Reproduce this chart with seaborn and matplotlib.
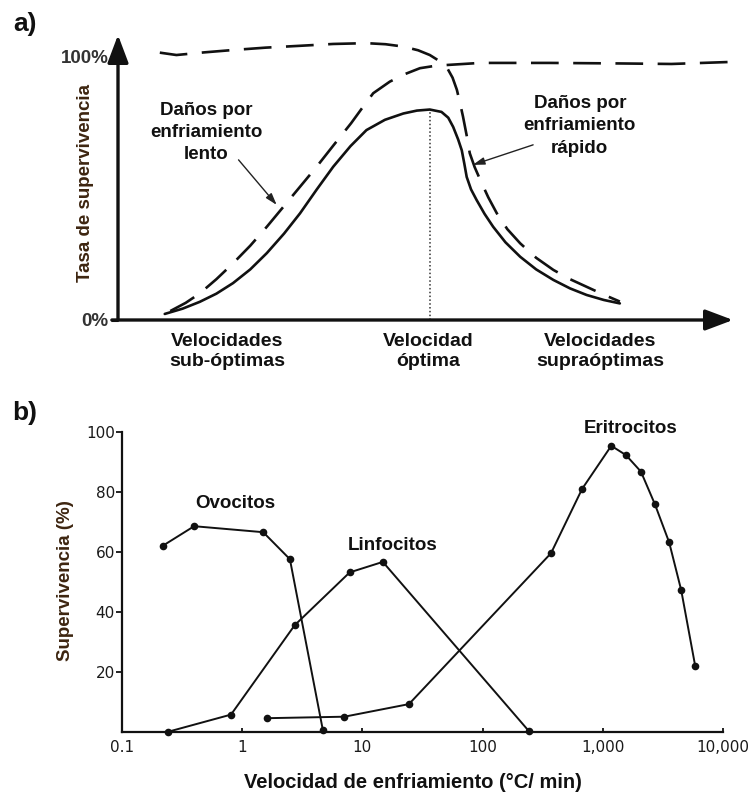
import pandas as pd
import matplotlib
matplotlib.use("Agg")
import matplotlib.pyplot as plt
import seaborn as sns

# ---------------- a) schematic: survival vs. cooling rate (rate in arbitrary units 0-100)
a_opt_x = [7.6, 10.5, 13.3, 16.0, 18.7, 21.5, 24.2, 27.0, 29.6, 32.3, 35.0, 37.8, 40.4,
           43.4, 46.4, 48.6, 50.7, 52.6, 53.7, 54.5, 55.3, 55.9, 56.3, 56.7, 57.4, 58.3,
           59.6, 61.0, 63.0, 65.4, 68.0, 70.8, 73.5, 76.2, 79.0, 81.6]
a_opt_y = [2.3, 4.3, 6.9, 10.0, 14.0, 19.2, 25.4, 32.8, 40.5, 49.5, 58.2, 66.0, 72.1,
           76.0, 78.4, 79.5, 79.9, 79.0, 76.8, 73.3, 68.6, 64.4, 59.5, 54.3, 49.6, 45.6,
           40.3, 35.4, 29.5, 24.0, 19.2, 15.2, 12.0, 9.5, 7.6, 6.3]

a_slow_x = [8.5, 11.0, 13.3, 16.0, 18.7, 21.5, 24.2, 26.9, 29.6, 32.3, 35.1, 37.9, 39.8,
            41.5, 44.2, 46.7, 49.1, 51.3, 53.4, 58.9, 70.2, 81.6, 90.0, 100.0]
a_slow_y = [3.4, 6.5, 10.1, 15.5, 21.5, 28.2, 35.4, 43.0, 50.6, 58.2, 66.5, 74.7, 80.8,
            86.1, 90.5, 93.4, 95.6, 96.4, 96.8, 97.6, 97.6, 97.4, 97.2, 98.0]

a_fast_x = [6.8, 9.5, 14.0, 18.7, 24.0, 29.6, 35.0, 40.4, 43.5, 46.4, 48.8, 50.7, 52.2,
            53.4, 54.4, 55.1, 55.6, 56.1, 56.7, 57.2, 58.0, 58.9, 60.2, 61.6, 63.3, 65.4,
            68.0, 70.8, 73.5, 76.2, 79.0, 81.6]
a_fast_y = [101.5, 100.6, 101.6, 102.5, 103.4, 104.1, 104.8, 105.1, 104.7, 103.8, 102.4,
            100.6, 98.4, 96.2, 92.0, 87.4, 82.5, 77.2, 70.0, 63.3, 58.0, 53.2, 46.6, 40.5,
            34.5, 29.1, 23.6, 19.0, 15.5, 12.6, 9.6, 7.0]

a_optimum_x = 50.7
a_peak_y = 79.9
a_rate_labels = ["Velocidades\nsub-óptimas", "Velocidad\nóptima", "Velocidades\nsupraóptimas"]
a_rate_label_x = [17.7, 50.5, 78.4]
a_surv_ticks = [0, 100]
a_surv_labels = ["0%", "100%"]

# ---------------- b) measured survival vs. cooling rate (°C/min)
ovo_x = [0.22, 0.40, 1.5, 2.5, 4.7]
ovo_y = [62.0, 68.5, 66.5, 57.5, 0.5]
lin_x = [0.244, 0.81, 2.74, 7.85, 14.8, 241]
lin_y = [0.0, 5.7, 35.5, 53.1, 56.6, 0.3]
eri_x = [1.6, 7.1, 24.4, 370, 670, 1172, 1552, 2067, 2702, 3550, 4467, 5835]
eri_y = [4.5, 5.0, 9.2, 59.5, 80.9, 95.3, 92.2, 86.7, 75.8, 63.1, 47.2, 22.0]
cell_names = ["Ovocitos", "Linfocitos", "Eritrocitos"]
b_xticks = [0.1, 1, 10, 100, 1000, 10000]
b_xticklabels = ["0.1", "1", "10", "100", "1,000", "10,000"]
b_yticks = [20, 40, 60, 80, 100]

W, H = 750, 795
sns.set_theme(style="white")
plt.rcParams["font.family"] = ["Liberation Sans", "DejaVu Sans"]

fig = plt.figure(figsize=(W / 100, H / 100), dpi=100)


def px_axes(left, top, right, bottom):
    return fig.add_axes([left / W, 1 - bottom / H, (right - left) / W, (bottom - top) / H])


def px_text(x, y, s, **kw):
    fig.text(x / W, 1 - y / H, s, **kw)


# ================= panel a =================
ax = px_axes(118, 35, 733, 320)
df_a = pd.concat([
    pd.DataFrame({"rate": a_opt_x, "surv": a_opt_y, "curve": "opt"}),
    pd.DataFrame({"rate": a_slow_x, "surv": a_slow_y, "curve": "slow"}),
    pd.DataFrame({"rate": a_fast_x, "surv": a_fast_y, "curve": "fast"}),
])
sns.lineplot(data=df_a, x="rate", y="surv", style="curve", color="#111111",
             dashes={"opt": "", "slow": (10.5, 5.5), "fast": (10.5, 5.5)},
             linewidth=1.9, sort=False, estimator=None, legend=False, ax=ax)
ax.plot([a_optimum_x, a_optimum_x], [0, a_peak_y], ls=(0, (1, 1.5)), lw=1.1, color="#333333")
ax.set_xlim(0, 100)
ax.set_ylim(0, 108.2)
for s in ax.spines.values():
    s.set_visible(False)
ax.set_xlabel("")
ax.set_ylabel("")
ax.set_yticks(a_surv_ticks)
ax.set_yticklabels(a_surv_labels, fontsize=13.5, fontweight="bold", color="#333333")
ax.tick_params(axis="y", length=5, width=2.2, color="#111111", pad=2, left=True)
ax.set_xticks(a_rate_label_x)
ax.set_xticklabels(a_rate_labels, fontsize=14, fontweight="bold", color="#111111",
                   linespacing=1.3)
ax.tick_params(axis="x", length=0, pad=9)

arrow_kw = dict(arrowstyle="-|>,head_length=0.85,head_width=0.32", lw=2.4,
                color="#111111", shrinkA=0, shrinkB=0, mutation_scale=20)
ax.annotate("", xy=(0, 1), xytext=(0, 0), xycoords="axes fraction",
            textcoords="axes fraction", arrowprops=arrow_kw, annotation_clip=False)
ax.annotate("", xy=(1, 0), xytext=(-0.01, 0), xycoords="axes fraction",
            textcoords="axes fraction", arrowprops=arrow_kw, annotation_clip=False)

thin = dict(arrowstyle="-|>,head_length=0.7,head_width=0.22", lw=1.0, color="#222222",
            shrinkA=0, shrinkB=0, mutation_scale=10)
ax.annotate("", xy=(25.8, 43.7), xytext=(19.6, 60.8), arrowprops=thin)
ax.annotate("", xy=(57.7, 58.9), xytext=(67.5, 66.5), arrowprops=thin)
ax.text(14.4, 71.2, "Daños por\nenfriamiento\nlento", ha="center", va="center",
        fontsize=13.5, fontweight="bold", color="#111111", linespacing=1.4)
ax.text(75.1, 73.7, "Daños por\nenfriamiento\nrápido", ha="center", va="center",
        fontsize=13.5, fontweight="bold", color="#111111", linespacing=1.4)

px_text(85, 183, "Tasa de supervivencia", rotation=90, ha="center", va="center",
        fontsize=13.5, fontweight="bold", color="#3d2510")
px_text(25, 24, "a)", ha="center", va="center", fontsize=19, fontweight="bold", color="#111111")

# ================= panel b =================
bx = px_axes(121.7, 431.7, 723.3, 731.7)
df_b = pd.concat([
    pd.DataFrame({"rate": ovo_x, "surv": ovo_y, "cell": cell_names[0]}),
    pd.DataFrame({"rate": lin_x, "surv": lin_y, "cell": cell_names[1]}),
    pd.DataFrame({"rate": eri_x, "surv": eri_y, "cell": cell_names[2]}),
])
sns.lineplot(data=df_b, x="rate", y="surv", units="cell", color="#111111",
             marker="o", markersize=5.5, markeredgewidth=0, linewidth=1.4,
             sort=False, estimator=None, legend=False, ax=bx, clip_on=False)
bx.set_xscale("log")
bx.set_xlim(0.1, 10000)
bx.set_ylim(0, 100)
sns.despine(ax=bx)
for side in ("left", "bottom"):
    bx.spines[side].set_linewidth(1.6)
    bx.spines[side].set_color("#111111")
bx.set_xlabel("")
bx.set_ylabel("")
bx.set_xticks(b_xticks)
bx.set_xticklabels(b_xticklabels, family="DejaVu Sans", fontsize=11, color="#1a1a1a")
bx.minorticks_off()
bx.tick_params(axis="x", direction="in", length=3, width=1.3, color="#111111", pad=6,
               bottom=True)
bx.set_yticks(b_yticks)
bx.set_yticklabels([str(v) for v in b_yticks], family="DejaVu Sans", fontsize=11,
                   color="#1a1a1a")
bx.tick_params(axis="y", direction="out", length=4, width=1.3, color="#111111", pad=1,
               left=True)

label_pos = {"Ovocitos": (0.885, 76.2), "Linfocitos": (17.9, 62.2), "Eritrocitos": (1686, 101.1)}
for name in cell_names:
    lx, ly = label_pos[name]
    bx.text(lx, ly, name, ha="center", va="center", fontsize=13.5, fontweight="bold",
            color="#111111", clip_on=False)

px_text(413, 783, "Velocidad de enfriamiento (°C/ min)", ha="center", va="center",
        fontsize=14.5, fontweight="bold", color="#111111")
px_text(65, 581, "Supervivencia (%)", rotation=90, ha="center", va="center",
        fontsize=13.5, fontweight="bold", color="#3d2510")
px_text(25, 413, "b)", ha="center", va="center", fontsize=19, fontweight="bold", color="#111111")

fig.savefig("out.png", dpi=100, facecolor="white")
